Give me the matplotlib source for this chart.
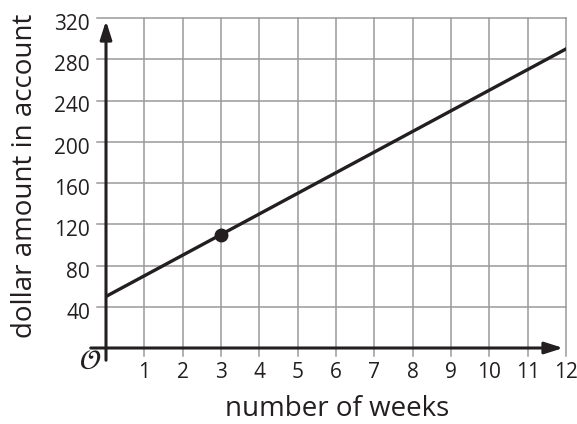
import matplotlib
matplotlib.use('Agg')
import numpy as np
import matplotlib.pyplot as plt

plt.rcParams['font.family'] = ['Open Sans', 'DejaVu Sans']

# data
weeks = [0, 12]
dollars = [50, 290]
point_week = [3]
point_dollars = [110]
x_ticks = list(range(1, 13))
y_ticks = [40, 80, 120, 160, 200, 240, 280, 320]

INK = '#231f20'
PT = 0.72  # points per pixel at dpi 100

fig = plt.figure(figsize=(5.77, 4.24), dpi=100)
ax = fig.add_axes([106/577, 1 - 348/424, 460/577, 330/424])

ax.set_xlim(0, 12)
ax.set_ylim(0, 320)

# grid, with the short stubs past the axes
for x in x_ticks:
    ax.plot([x, x], [-8 * 320/330, 320], color='#9a9a9a', lw=1.1, clip_on=False, zorder=1)
for y in y_ticks:
    ax.plot([-9 * 12/460, 12], [y, y], color='#9a9a9a', lw=1.1, clip_on=False, zorder=1)

# axes with arrows
ax.annotate('', xy=(12, 0), xytext=(-0.47, 0),
            arrowprops=dict(arrowstyle='-|>,head_length=1.1,head_width=0.35', color=INK, lw=2.2),
            annotation_clip=False, zorder=3)
ax.annotate('', xy=(0, 320), xytext=(0, -15 * 320/330),
            arrowprops=dict(arrowstyle='-|>,head_length=1.1,head_width=0.35', color=INK, lw=2.2),
            annotation_clip=False, zorder=3)

ax.plot(weeks, dollars, color=INK, lw=2.4, zorder=4)
ax.plot(point_week, point_dollars, 'o', color=INK, markersize=9, zorder=5)

for s in ax.spines.values():
    s.set_visible(False)
ax.set_xticks([])
ax.set_yticks([])

for x in x_ticks:
    ax.annotate(str(x), xy=(x, 0), xytext=(0, -30 * PT), textcoords='offset points',
                ha='center', va='baseline', fontsize=15, color=INK, annotation_clip=False)
for y in y_ticks:
    ax.annotate(str(y), xy=(0, y), xytext=(-16 * PT, -12 * PT), textcoords='offset points',
                ha='right', va='baseline', fontsize=15, color=INK, annotation_clip=False)
ax.annotate(r'$\mathcal{O}$', xy=(0, 0), xytext=(-16 * PT, -14 * PT), textcoords='offset points',
            ha='center', va='center', fontsize=20, color=INK, annotation_clip=False)

fig.text(337/577, 1 - 423/424, 'number of weeks', ha='center', va='bottom',
         fontsize=20, color=INK)
fig.text(32/577, 1 - 176/424, 'dollar amount in account', ha='center', va='baseline',
         rotation=90, rotation_mode='anchor', fontsize=20, color=INK)

fig.savefig('out.png', dpi=100)
